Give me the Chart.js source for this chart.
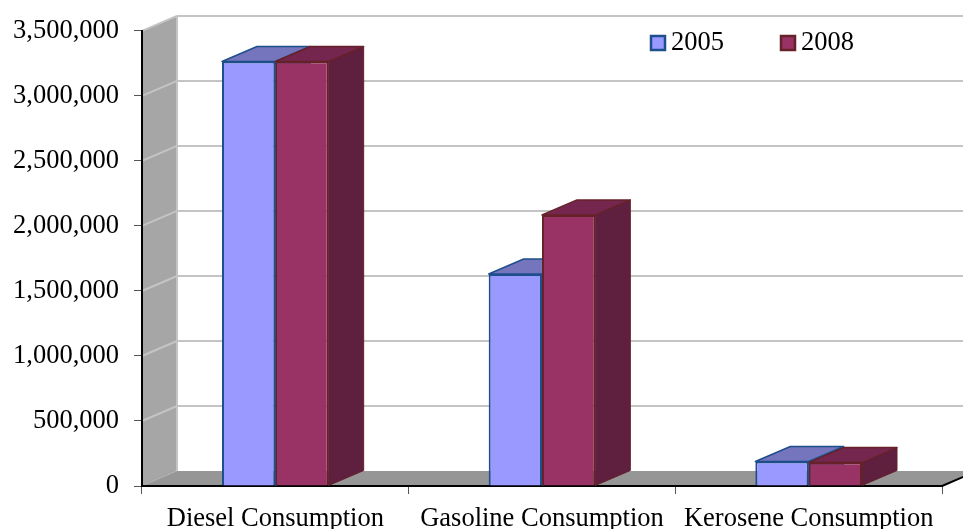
<!DOCTYPE html>
<html lang="en">
<head>
<meta charset="UTF-8">
<title>Fuel consumption</title>
<script src="https://cdn.jsdelivr.net/npm/chart.js@4/dist/chart.umd.min.js"></script>
<style>
  html, body { margin: 0; padding: 0; background: #fff; }
  canvas { display: block; }
</style>
</head>
<body>
<canvas id="chart" width="963" height="529"></canvas>
<script>
const categories = ["Diesel Consumption", "Gasoline Consumption", "Kerosene Consumption"];
const years = ["2005", "2008"];
const values2005 = [3265000, 1630000, 188000];
const values2008 = [3265000, 2085000, 180000];
const yMax = 3500000;
const yStep = 500000;

const fontFamily = "'Liberation Serif', serif";
const fontSize = 26.5;

// how far the back wall sits from the front plane
const depthX = 35;
const depthY = 15;

const faces = [
  { front: "#9999ff", edge: "#1f4e8c", top: "#7575bd", side: "#5c5c99" },
  { front: "#993366", edge: "#662228", top: "#75264e", side: "#5f1f3e" }
];

function poly(ctx, pts, fill, stroke, lw) {
  ctx.beginPath();
  pts.forEach((p, i) => i ? ctx.lineTo(p[0], p[1]) : ctx.moveTo(p[0], p[1]));
  ctx.closePath();
  if (fill) { ctx.fillStyle = fill; ctx.fill(); }
  if (stroke) { ctx.strokeStyle = stroke; ctx.lineWidth = lw || 1; ctx.lineJoin = "round"; ctx.stroke(); }
}

function line(ctx, x1, y1, x2, y2, color, lw) {
  ctx.beginPath();
  ctx.moveTo(x1, y1);
  ctx.lineTo(x2, y2);
  ctx.strokeStyle = color;
  ctx.lineWidth = lw;
  ctx.stroke();
}

// side wall, floor and gridlines go behind everything
const walls = {
  id: "walls",
  beforeDraw(chart) {
    const ctx = chart.ctx, a = chart.chartArea, y = chart.scales.y;
    const farRight = a.right + depthX;
    ctx.save();
    poly(ctx, [[a.left, a.top], [a.left + depthX, a.top - depthY], [a.left + depthX, a.bottom - depthY], [a.left, a.bottom]], "#a6a6a6");
    poly(ctx, [[a.left, a.bottom], [a.left + depthX, a.bottom - depthY], [farRight, a.bottom - depthY], [a.right, a.bottom]], "#969696");
    y.ticks.forEach(t => {
      const py = y.getPixelForValue(t.value);
      if (t.value > 0) {
        line(ctx, a.left, py, a.left + depthX, py - depthY, "#c4c4c4", 2);
        line(ctx, a.left + depthX, py - depthY, farRight, py - depthY, "#c4c4c4", 2);
      }
    });
    line(ctx, a.left + depthX, a.top - depthY, a.left + depthX, a.bottom - depthY, "#c4c4c4", 2);
    line(ctx, a.right, a.bottom, farRight, a.bottom - depthY, "#000", 2);
    ctx.restore();
  }
};

// tops and sides of the bars, the library then paints the front faces over them
const depthFaces = {
  id: "depthFaces",
  beforeDatasetsDraw(chart) {
    const ctx = chart.ctx;
    ctx.save();
    chart.data.datasets.forEach((ds, d) => {
      const c = faces[d];
      chart.getDatasetMeta(d).data.forEach(bar => {
        const l = bar.x - bar.width / 2, r = bar.x + bar.width / 2;
        poly(ctx, [[r, bar.y], [r + depthX, bar.y - depthY], [r + depthX, bar.base - depthY], [r, bar.base]], c.side, c.edge, 1);
        poly(ctx, [[l, bar.y], [r, bar.y], [r + depthX, bar.y - depthY], [l + depthX, bar.y - depthY]], c.top, c.edge, 1.5);
      });
    });
    ctx.restore();
  }
};

// legend sits inside the plot, with the text close to the swatch
const insideLegend = {
  id: "insideLegend",
  afterDraw(chart) {
    const ctx = chart.ctx;
    const xs = [651, 781];
    ctx.save();
    ctx.font = fontSize + "px " + fontFamily;
    ctx.textBaseline = "middle";
    chart.data.datasets.forEach((ds, d) => {
      ctx.fillStyle = faces[d].front;
      ctx.strokeStyle = faces[d].edge;
      ctx.lineWidth = 2.5;
      ctx.fillRect(xs[d], 36, 14, 14);
      ctx.strokeRect(xs[d], 36, 14, 14);
      ctx.fillStyle = "#000";
      ctx.fillText(ds.label, xs[d] + 20, 43);
    });
    ctx.restore();
  }
};

new Chart(document.getElementById("chart"), {
  type: "bar",
  data: {
    labels: categories,
    datasets: [
      { label: years[0], data: values2005, backgroundColor: faces[0].front, borderColor: faces[0].edge, borderWidth: 2 },
      { label: years[1], data: values2008, backgroundColor: faces[1].front, borderColor: faces[1].edge, borderWidth: 2 }
    ]
  },
  plugins: [walls, depthFaces, insideLegend],
  options: {
    responsive: false,
    animation: false,
    layout: { padding: { top: 29, right: 21, left: 0, bottom: 0 } },
    font: { family: fontFamily, size: fontSize },
    categoryPercentage: 0.4,
    barPercentage: 1,
    plugins: { legend: { display: false }, tooltip: { enabled: false } },
    scales: {
      x: {
        afterFit(s) { s.height = 43; },
        grid: { offset: true, drawOnChartArea: false, drawTicks: true, tickLength: 8, tickColor: "#555", tickWidth: 1 },
        border: { color: "#000", width: 2 },
        ticks: { color: "#000", padding: 9, maxRotation: 0, autoSkip: false, font: { family: fontFamily, size: fontSize } }
      },
      y: {
        min: 0,
        max: yMax,
        afterFit(s) { s.width = 142; },
        grid: { drawOnChartArea: false, drawTicks: true, tickLength: 8, tickColor: "#555", tickWidth: 1 },
        border: { color: "#000", width: 2 },
        ticks: {
          stepSize: yStep,
          color: "#000",
          padding: 15,
          font: { family: fontFamily, size: fontSize },
          callback: v => v.toLocaleString("en-US")
        }
      }
    }
  }
});
</script>
</body>
</html>
